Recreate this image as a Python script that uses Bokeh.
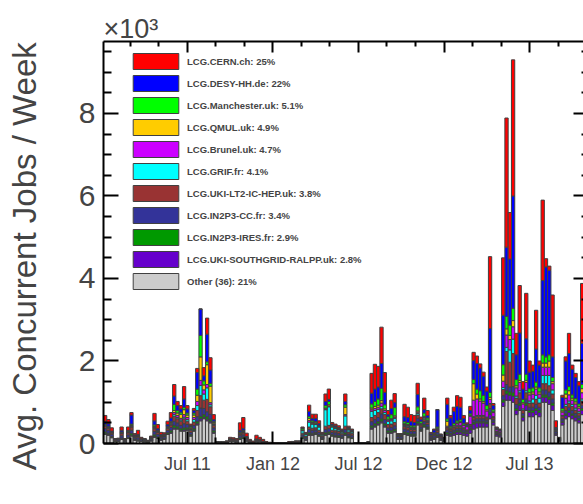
from bokeh.plotting import figure
from bokeh.models import (Range1d, LinearAxis, FixedTicker, Legend, LegendItem,
                          ColumnDataSource)
from bokeh.embed import file_html
from bokeh.resources import INLINE

# ---------------- data (thousands of concurrent jobs, one value per week) -------------
other = [
    .22, .20, .14, .05, .05, .10, .04, .12, .18, .08,
    .06, .05, .04, .03, .06, .15, .12, .08, .10, .22,
    .25, .35, .35, .30, .30, .32, .18, .30, .45, .55,
    .60, .55, .50, .25, .02, .02, .02, .03, .05, .05,
    .04, .10, .12, .06, .03, .02, .04, .04, .03, .02,
    .02, .01, .01, .01, .01, .01, .02, .02, .03, .03,
    .12, .08, .20, .20, .22, .18, .10, .20, .22, .18,
    .16, .15, .13, .20, .14, .12, .01, .01, .01, .01,
    .02, .35, .40, .45, .50, .40, .25, .25, .28, .10,
    .10, .22, .20, .18, .18, .45, .30, .40, .35, .08,
    .10, .15, .08, .05, .20, .18, .20, .22, .22, .20,
    .18, .25, .35, .38, .40, .40, .40, .60, .45, .18,
    .16, .90, 1.05, 1.05, 1.00, .70, .80, .55, .80, .65,
    .65, .70, .65, 1.00, 1.00, .95, .80, .20, .06, .45,
    .60, .65, .60, .55, .50, .70, .70, .60]
ralpp = [
    .02, .02, .01, 0, 0, .01, 0, .01, .02, .01,
    .01, 0, 0, 0, .01, .02, .01, .01, .01, .01,
    .02, .03, .02, .02, .03, .02, .01, .02, .03, .05,
    .04, .04, .04, .02, 0, 0, 0, 0, 0, 0,
    0, .01, .01, 0, 0, 0, 0, 0, 0, 0,
    0, 0, 0, 0, 0, 0, 0, 0, 0, 0,
    .01, .01, .02, .02, .02, .01, .01, .02, .02, .01,
    .01, .01, .01, .02, .01, .01, 0, 0, 0, 0,
    0, .03, .03, .03, .04, .03, .02, .02, .02, .01,
    .01, .02, .02, .02, .02, .03, .02, .02, .02, .02,
    .02, .03, .01, .01, .03, .03, .04, .06, .06, .05,
    .06, .08, .12, .12, .10, .10, .08, .10, .06, .04,
    .04, .10, .15, .12, .15, .10, .12, .08, .12, .10,
    .10, .10, .10, .12, .12, .12, .12, .03, .01, .06,
    .08, .10, .08, .08, .07, .10, .10, .08]
ires = [
    .04, .03, .02, .01, .01, .02, .01, .02, .04, .02,
    .02, .01, .01, .01, .01, .04, .03, .02, .02, .03,
    .04, .06, .05, .04, .05, .04, .03, .04, .05, .06,
    .06, .06, .05, .04, 0, 0, 0, 0, .01, .01,
    .01, .03, .03, .02, .01, 0, .01, .01, 0, 0,
    0, 0, 0, 0, 0, 0, 0, 0, 0, 0,
    .03, .02, .04, .03, .03, .03, .02, .04, .04, .03,
    .03, .03, .02, .04, .03, .02, 0, 0, 0, 0,
    0, .05, .05, .05, .06, .05, .04, .04, .05, .02,
    .02, .04, .04, .03, .03, .05, .03, .04, .03, .02,
    .02, .03, .02, .01, .04, .03, .04, .04, .04, .03,
    .02, .03, .04, .04, .04, .04, .04, .05, .03, .02,
    .02, .06, .08, .08, .08, .05, .06, .04, .06, .05,
    .05, .05, .05, .06, .06, .06, .06, .02, .01, .03,
    .04, .05, .04, .04, .04, .05, .05, .04]
in2p3_cc = [
    .08, .07, .05, .02, .03, .06, .02, .06, .08, .04,
    .05, .03, .02, .01, .03, .08, .06, .04, .04, .06,
    .08, .10, .08, .08, .10, .08, .05, .08, .12, .20,
    .15, .12, .12, .07, .01, .01, 0, .01, .02, .02,
    .02, .05, .05, .03, .02, .01, .02, .02, .02, .01,
    0, .01, 0, 0, 0, 0, .01, .01, .01, .01,
    .05, .04, .08, .07, .06, .05, .03, .08, .08, .05,
    .06, .05, .05, .08, .05, .05, .01, .01, .01, .01,
    .01, .10, .10, .10, .12, .10, .07, .08, .08, .04,
    .04, .07, .07, .06, .06, .08, .05, .07, .06, .04,
    .05, .06, .03, .03, .06, .05, .05, .05, .05, .05,
    .04, .05, .06, .06, .06, .06, .05, .10, .05, .03,
    .03, .10, .15, .12, .15, .10, .10, .06, .10, .08,
    .08, .10, .08, .12, .12, .12, .10, .04, .03, .06,
    .08, .08, .08, .06, .06, .08, .08, .06]
ic_hep = [
    .06, .05, .04, .02, .02, .05, .02, .05, .08, .03,
    .04, .02, .02, .01, .03, .07, .05, .03, .03, .05,
    .06, .12, .10, .10, .12, .08, .05, .08, .15, .30,
    .20, .30, .18, .06, .01, 0, .01, .01, .02, .02,
    .02, .04, .05, .03, .01, .01, .02, .02, .01, 0,
    0, 0, 0, 0, 0, 0, 0, .01, .01, .01,
    .04, .03, .06, .05, .05, .05, .03, .08, .08, .05,
    .05, .05, .04, .08, .05, .04, 0, 0, 0, 0,
    0, .10, .10, .12, .12, .12, .08, .08, .08, .03,
    .03, .06, .06, .05, .05, .08, .05, .06, .05, .03,
    .04, .05, .03, .02, .05, .04, .05, .05, .05, .04,
    .03, .04, .06, .06, .06, .06, .05, .10, .05, .03,
    .02, .15, .80, .60, .80, .15, .15, .08, .15, .10,
    .10, .12, .10, .15, .15, .15, .12, .03, .02, .06,
    .10, .10, .10, .08, .07, .10, .10, .08]
grif = [
    0, .01, 0, 0, 0, .01, 0, .01, .02, 0,
    0, 0, 0, 0, 0, .02, .01, 0, 0, .01,
    .02, .04, .03, .03, .04, .04, .02, .06, .12, .25,
    .15, .28, .05, .02, 0, 0, 0, 0, 0, 0,
    0, .01, .01, 0, 0, 0, 0, 0, 0, 0,
    0, 0, 0, 0, 0, 0, 0, 0, 0, 0,
    .06, .04, .12, .10, .08, .08, .03, .40, .45, .08,
    .05, .04, .03, .25, .05, .04, 0, 0, 0, 0,
    0, .15, .12, .08, .06, .05, .08, .08, .10, .01,
    .01, .03, .03, .02, .02, .04, .02, .03, .02, 0,
    0, .01, 0, 0, .01, .01, .01, .01, .01, .01,
    0, .01, .02, .02, .02, .02, .02, .02, .01, 0,
    0, .05, .10, .30, .35, .05, .05, .03, .05, .05,
    .10, .10, .12, .20, .20, .25, .10, .01, 0, .02,
    .05, .05, .05, .05, .04, .05, .05, .04]
brunel = [
    .02, .01, .01, 0, 0, .01, 0, .01, .01, 0,
    .01, 0, 0, 0, 0, .02, .01, .01, 0, .01,
    .02, .05, .05, .04, .06, .05, .02, .05, .10, .12,
    .10, .08, .05, .02, 0, 0, 0, 0, 0, 0,
    0, .01, .01, 0, 0, 0, 0, 0, 0, 0,
    0, 0, 0, 0, 0, 0, 0, 0, 0, 0,
    .01, 0, .04, .02, .02, .01, 0, .02, .02, .01,
    .01, .01, .01, .03, .01, .01, 0, 0, 0, 0,
    0, .04, .05, .05, .08, .05, .03, .03, .03, 0,
    0, .02, .02, .02, .02, .03, .01, .02, .02, .01,
    .01, .02, .01, 0, .03, .02, .03, .05, .08, .06,
    .08, .20, .40, .40, .35, .30, .15, .10, .10, .05,
    .04, .15, .30, .25, .30, .20, .20, .12, .20, .15,
    .12, .15, .10, .20, .20, .20, .15, .02, 0, .08,
    .15, .15, .10, .10, .08, .15, .12, .10]
qmul = [
    0, .01, 0, 0, 0, 0, 0, 0, .01, 0,
    0, 0, 0, 0, 0, .01, .01, 0, 0, .01,
    .02, .05, .06, .10, .12, .06, .02, .06, .15, .57,
    .12, .48, .40, .03, 0, 0, 0, 0, 0, 0,
    0, .01, .01, 0, 0, 0, 0, 0, 0, 0,
    0, 0, 0, 0, 0, 0, 0, 0, 0, 0,
    .01, 0, .05, .02, .02, .01, 0, .02, .03, .01,
    .01, .01, 0, .18, .01, 0, 0, 0, 0, 0,
    0, .04, .05, .05, .06, .04, .02, .02, .03, 0,
    0, .02, .02, .01, .01, .03, .01, .02, .02, 0,
    .01, .02, 0, 0, .12, .02, .02, .02, .02, .01,
    0, .02, .40, .12, .05, .04, .03, .05, .02, 0,
    0, .15, .15, .10, .15, .05, .05, .03, .05, .05,
    .05, .05, .05, .10, .10, .15, .05, 0, 0, .03,
    .10, .10, .05, .05, .04, .10, .05, .04]
manchester = [
    .02, .02, .01, 0, .01, .02, .01, .02, .03, .01,
    .01, .01, .01, 0, .01, .04, .02, .01, .01, .02,
    .03, .15, .06, .05, .06, .05, .03, .05, .15, .52,
    .10, .07, .07, .03, 0, 0, 0, 0, .01, 0,
    0, .02, .03, .01, 0, 0, .01, 0, 0, 0,
    0, 0, 0, 0, 0, 0, 0, 0, 0, 0,
    .04, .01, .05, .04, .03, .02, .01, .06, .08, .02,
    .02, .02, .02, .06, .02, .02, 0, 0, 0, 0,
    0, .10, .12, .15, .30, .10, .06, .10, .20, .01,
    .01, .05, .05, .04, .04, .10, .05, .08, .05, .01,
    .01, .03, .01, .01, .06, .04, .05, .05, .05, .04,
    .02, .04, .10, .12, .20, .15, .10, .12, .05, .01,
    .01, .25, .30, .25, .30, .15, .15, .08, .15, .10,
    .10, .12, .10, .20, .15, .15, .10, .02, .01, .06,
    .10, .10, .08, .08, .06, .10, .10, .08]
desy = [
    .08, .06, .02, .01, 0, .04, .01, .02, .22, .02,
    .02, .01, .01, .01, .01, .10, .04, .02, .02, .04,
    .08, .20, .12, .08, .20, .10, .03, .06, .40, .64,
    .12, .67, .32, .04, 0, 0, 0, 0, .01, .01,
    0, .04, .05, .02, 0, 0, .01, .01, 0, 0,
    0, 0, 0, 0, 0, 0, 0, 0, 0, 0,
    .01, .02, .12, .06, .08, .04, .02, .10, .05, .03,
    .03, .02, .02, .08, .02, .02, 0, 0, 0, 0,
    0, .26, .30, .29, .60, .30, .05, .15, .12, .01,
    .01, .12, .12, .10, .08, .30, .05, .08, .06, .04,
    .07, .42, .03, .01, .35, .20, .29, .35, .30, .12,
    .04, .08, .46, .62, .55, .46, .35, 1.55, .10, .02,
    .02, 1.20, 1.68, 1.60, 2.72, .60, 1.00, .25, .86, .40,
    .40, .80, .55, 1.80, 2.18, 2.05, .50, .02, 0, .27,
    .70, .80, .62, .51, .44, 1.00, .90, .58]
cern = [
    .14, .10, .08, .01, .01, .08, .01, .08, .06, .03,
    .10, .02, .01, .01, .02, .18, .10, .05, .03, .08,
    .13, .28, .10, .08, .30, .08, .03, .05, .10, 0,
    .20, .39, .30, .12, 0, 0, 0, .01, .03, .03,
    .03, .18, .26, .08, .03, .02, .09, .05, .04, .01,
    .01, 0, .01, 0, 0, 0, .01, .01, .01, .01,
    .02, .02, .15, .10, .10, .07, .02, .18, .25, .04,
    .04, .04, .02, .18, .03, .02, 0, 0, 0, 0,
    0, .48, .60, .50, .88, .48, .10, .20, .22, .01,
    .01, .30, .25, .17, .17, .27, .05, .28, .12, .02,
    .02, 0, .01, .01, .15, .06, .10, .26, .24, .07,
    .03, .10, .20, .18, .10, .10, .10, 1.74, .05, .02,
    .01, 1.39, 3.13, 1.13, 3.30, .52, 1.15, .18, 1.10, .27,
    .15, .94, .10, 1.95, .20, .10, 1.50, .16, .01, .05,
    .10, .49, .10, .10, .10, 1.45, .75, .30]

# legend (top to bottom) and stacking order (bottom to top is the reverse)
legend_labels = [
    "LCG.CERN.ch: 25%", "LCG.DESY-HH.de: 22%", "LCG.Manchester.uk: 5.1%",
    "LCG.QMUL.uk: 4.9%", "LCG.Brunel.uk: 4.7%", "LCG.GRIF.fr: 4.1%",
    "LCG.UKI-LT2-IC-HEP.uk: 3.8%", "LCG.IN2P3-CC.fr: 3.4%", "LCG.IN2P3-IRES.fr: 2.9%",
    "LCG.UKI-SOUTHGRID-RALPP.uk: 2.8%", "Other (36): 21%"]
series = [cern, desy, manchester, qmul, brunel, grif, ic_hep, in2p3_cc, ires, ralpp, other]
keys = ["cern", "desy", "manchester", "qmul", "brunel", "grif", "ic_hep",
        "in2p3_cc", "ires", "ralpp", "other"]
colors = ["#ff0000", "#0000ff", "#00ff00", "#ffcc00", "#cc00ff", "#00ffff",
          "#993333", "#333399", "#009900", "#6600cc", "#cccccc"]

tick_weeks = [25.5, 51.5, 77.5, 103.5, 129.5]
tick_labels = ["Jul 11", "Jan 12", "Jul 12", "Dec 12", "Jul 13"]
minor_weeks = [8.17, 16.83, 34.17, 42.83, 60.17, 68.83, 86.17, 94.83,
               112.17, 120.83, 138.17]
y_major = [0, 2, 4, 6, 8]
y_minor = [0.5, 1, 1.5, 2.5, 3, 3.5, 4.5, 5, 5.5, 6.5, 7, 7.5, 8.5, 9, 9.5]

n = len(other)
for s in series:
    assert len(s) == n, len(s)

data = {k: s for k, s in zip(keys, series)}
data["week"] = [i + 0.5 for i in range(n)]
source = ColumnDataSource(data)

XMAX = 145.9
YMAX = 9.745
FONT = "Liberation Sans"
NBSP = "\u00a0"

p = figure(width=583, height=504, x_range=Range1d(0, XMAX), y_range=Range1d(0, YMAX),
           output_backend="svg", toolbar_location=None, title="\u00d710\u00b3",
           min_border_left=103, min_border_right=0, min_border_top=41, min_border_bottom=61)
p.outline_line_color = None
p.xgrid.grid_line_color = None
p.ygrid.grid_line_color = None
p.background_fill_color = "white"
p.border_fill_color = "white"

# x10^3 exponent shown as the title, left aligned just above the frame
p.title.align = "left"
p.title.text_font = FONT
p.title.text_font_size = "27px"
p.title.text_font_style = "normal"
p.title.offset = 0
try:
    p.title.standoff = -4
except Exception:
    p.title.standoff = 0

stack_keys = keys[::-1]
stack_colors = colors[::-1]
rs = p.vbar_stack(stack_keys, x="week", width=1.0, source=source,
                  fill_color=stack_colors, line_color="#404040", line_width=1)
r_by_key = dict(zip(stack_keys, rs))

# axes
xt = FixedTicker(ticks=tick_weeks, minor_ticks=minor_weeks)
yt = FixedTicker(ticks=y_major, minor_ticks=y_minor)

xa = p.xaxis[0]
xa.ticker = xt
xa.major_label_overrides = {t: l for t, l in zip(tick_weeks, tick_labels)}
xa.major_label_text_font = FONT
xa.major_label_text_font_size = "18px"
xa.major_label_standoff = 10
xa.major_tick_in = 12
xa.major_tick_out = 0
xa.minor_tick_in = 6
xa.minor_tick_out = 0
xa.axis_line_width = 2
xa.major_tick_line_width = 2
xa.minor_tick_line_width = 2

ya = p.yaxis[0]
ya.ticker = yt
ya.major_label_text_font = FONT
ya.major_label_text_font_size = "30px"
ya.major_label_standoff = 8
ya.major_tick_in = 15
ya.major_tick_out = 0
ya.minor_tick_in = 8
ya.minor_tick_out = 0
ya.axis_line_width = 2
ya.major_tick_line_width = 2
ya.minor_tick_line_width = 2
# trailing no-break spaces push the centred title toward the bottom (ROOT aligns it to the top end)
ya.axis_label = "Avg. Concurrent Jobs / Week" + NBSP * 3
ya.axis_label_text_font = FONT
ya.axis_label_text_font_size = "33px"
ya.axis_label_text_font_style = "normal"
ya.axis_label_standoff = 33

top = LinearAxis(ticker=xt, major_label_text_font_size="0px", major_label_standoff=0,
                 major_tick_in=11, major_tick_out=0, minor_tick_in=5, minor_tick_out=0,
                 axis_line_width=2, major_tick_line_width=2, minor_tick_line_width=2)
top.major_label_overrides = {t: "" for t in tick_weeks}
p.add_layout(top, "above")

right = LinearAxis(ticker=yt, major_label_text_font_size="0px", major_label_standoff=0,
                   major_tick_in=10, major_tick_out=0, minor_tick_in=2, minor_tick_out=0,
                   axis_line_color=None, major_tick_line_width=2, minor_tick_line_width=2)
right.major_label_overrides = {t: "" for t in y_major}
p.add_layout(right, "right")

items = [LegendItem(label=lab, renderers=[r_by_key[k]]) for lab, k in zip(legend_labels, keys)]
legend = Legend(items=items, location=(24, 152), glyph_width=57, glyph_height=20,
                label_height=20, label_standoff=3, spacing=2, padding=0, margin=0,
                border_line_color=None, background_fill_alpha=0,
                label_text_font=FONT, label_text_font_size="9.5px",
                label_text_font_style="bold", label_text_baseline="middle")
p.add_layout(legend)

open("out.html", "w").write(file_html(p, INLINE))
